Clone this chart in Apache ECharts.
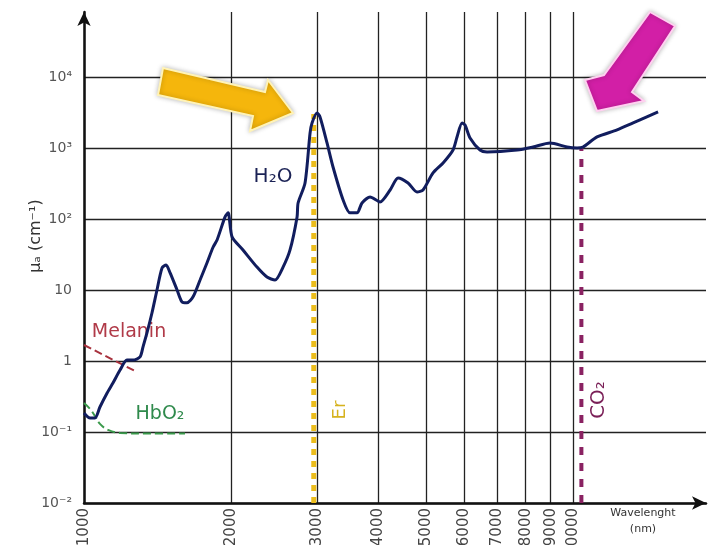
<!DOCTYPE html>
<html><head><meta charset="utf-8">
<script src="https://cdn.jsdelivr.net/npm/echarts@6/dist/echarts.min.js"></script>
<style>html,body{margin:0;padding:0;background:#fff}#c{width:709px;height:545px}</style>
</head><body><div id="c"></div>
<script>
// Water absorption curve (nm, cm^-1)
const waterWavelength = [1000,1029,1053,1078,1115,1146,1185,1224,1259,1302,1320,1345,1377,1410,1444,1472,1500,1550,1586,1624,1671,1727,1784,1836,1871,1943,1971,2008,2114,2258,2367,2458,2553,2638,2727,2740,2831,2899,2926,2995,3038,3140,3230,3387,3499,3616,3702,3845,4030,4226,4387,4599,4797,4934,5172,5423,5683,5791,5929,6013,6157,6453,6670,7685,8284,8974,9721,10190,10481,11197,12303,13267,14923];
const waterAbs = [0.185,0.157,0.157,0.225,0.354,0.49,0.746,1.03,1.03,1.14,1.57,2.48,4.74,10,20.4,22.5,17.4,10,6.8,6.6,8.0,13.8,24,40,50.6,107,122,56,36.6,21,15.2,13.8,21,36.6,107,168,321,1627,2250,3112,2735,1176,540,185,122,122,168,204,174,256,378,321,240,256,445,615,937,1429,2250,2108,1383,937,879,937,1033,1176,1033,1000,1033,1429,1795,2250,3213];

const melaninWavelength = [1000, 1283];
const melaninAbs = [1.68, 0.70];

const hbo2Wavelength = [1000,1029,1053,1078,1120,1185,1364,1609];
const hbo2Abs = [0.256,0.211,0.168,0.130,0.107,0.097,0.095,0.095];

const erWavelength = [2950, 2950];
const erAbs = [0.01, 3000];
const co2Wavelength = [10400, 10400];
const co2Abs = [0.01, 1000];

const xTickValues = [1000,2000,3000,4000,5000,6000,7000,8000,9000,10000];
const yTickValues = [0.01,0.1,1,10,100,1000,10000];
const yTickLabels = ['10⁻²','10⁻¹','1','10','10²','10³','10⁴'];

const pair = (xs, ys) => xs.map((x, i) => [x, ys[i]]);
const FONT = '"DejaVu Sans", sans-serif';

const chart = echarts.init(document.getElementById('c'), null, {renderer: 'canvas'});
chart.setOption({
  animation: false,
  backgroundColor: '#ffffff',
  grid: {left: 84, right: 3, top: 12, bottom: 42, containLabel: false, outerBoundsMode: 'none'},
  xAxis: {
    type: 'log', min: 1000, max: 18700,
    axisLine: {lineStyle: {color: '#111', width: 2.5}, symbol: ['none', 'arrow'], symbolSize: [10, 14]},
    axisTick: {show: false, customValues: xTickValues},
    axisLabel: {customValues: xTickValues, rotate: 90, margin: 5, color: '#444', fontSize: 15, fontFamily: FONT,
      formatter: v => String(Math.round(v))},
    splitLine: {show: true, lineStyle: {color: '#222', width: 1.3}},
    minorSplitLine: {show: false}
  },
  yAxis: {
    type: 'log', min: 0.01, max: 82200,
    axisLine: {lineStyle: {color: '#111', width: 2.5}, symbol: ['none', 'arrow'], symbolSize: [10, 14]},
    axisTick: {show: false, customValues: yTickValues},
    axisLabel: {
      customValues: yTickValues, margin: 12, color: '#555', fontSize: 14, fontFamily: FONT,
      formatter: v => yTickLabels[yTickValues.findIndex(t => Math.abs(Math.log10(t) - Math.log10(v)) < 0.01)]
    },
    splitLine: {show: true, lineStyle: {color: '#222', width: 1.3}}
  },
  series: [
    {type: 'line', name: 'Er', data: pair(erWavelength, erAbs), showSymbol: false,
     lineStyle: {color: '#ecbd1c', width: 5, type: [6, 6]}, z: 2},
    {type: 'line', name: 'CO2', data: pair(co2Wavelength, co2Abs), showSymbol: false,
     lineStyle: {color: '#8a2262', width: 4, type: [8, 8]}, z: 2},
    {type: 'line', name: 'Melanin', data: pair(melaninWavelength, melaninAbs), showSymbol: false,
     lineStyle: {color: '#a8323e', width: 2, type: [8, 4]}, z: 3},
    {type: 'line', name: 'HbO2', data: pair(hbo2Wavelength, hbo2Abs), showSymbol: false, smooth: 0.4,
     lineStyle: {color: '#3b9a4c', width: 2, type: [8, 4]}, z: 3},
    {type: 'line', name: 'H2O', data: pair(waterWavelength, waterAbs), showSymbol: false, smooth: 0.25,
     lineStyle: {color: '#111d5e', width: 3}, z: 5}
  ],
  graphic: [
    {type: 'text', x: 36, y: 236, rotation: Math.PI / 2,
     style: {text: 'μₐ (cm⁻¹)', fill: '#333', font: '16px ' + FONT, align: 'center', verticalAlign: 'middle'}},
    {type: 'text', x: 643, y: 521,
     style: {text: 'Wavelenght\n(nm)', fill: '#333', font: '11px ' + FONT, align: 'center', verticalAlign: 'middle', lineHeight: 16}},
    {type: 'text', x: 129, y: 332,
     style: {text: 'Melanin', fill: '#b03a48', font: '19px ' + FONT, align: 'center', verticalAlign: 'middle'}},
    {type: 'text', x: 160, y: 414,
     style: {text: 'HbO₂', fill: '#2f8a4c', font: '19px ' + FONT, align: 'center', verticalAlign: 'middle'}},
    {type: 'text', x: 273, y: 177,
     style: {text: 'H₂O', fill: '#1b2255', font: '20px ' + FONT, align: 'center', verticalAlign: 'middle'}},
    {type: 'text', x: 340, y: 410, rotation: Math.PI / 2,
     style: {text: 'Er', fill: '#d6b21e', font: '18px ' + FONT, align: 'center', verticalAlign: 'middle'}},
    {type: 'text', x: 599, y: 400, rotation: Math.PI / 2,
     style: {text: 'CO₂', fill: '#7a1f57', font: '20px ' + FONT, align: 'center', verticalAlign: 'middle'}},
    {type: 'polygon', shape: {points: [[163,68],[265,92],[268,80],[293,113],[250,131],[253,116],[158,95]]},
     style: {fill: '#f5b60c', stroke: '#fff3b8', lineWidth: 2, shadowBlur: 5, shadowColor: 'rgba(0,0,0,0.25)'}, z: 10},
    {type: 'polygon', shape: {points: [[650,12],[675,26],[632,92],[644,101],[597,111],[585,80],[604,75]]},
     style: {fill: '#d21fa6', stroke: '#ffd0f0', lineWidth: 2, shadowBlur: 5, shadowColor: 'rgba(0,0,0,0.25)'}, z: 10}
  ]
});
</script></body></html>
